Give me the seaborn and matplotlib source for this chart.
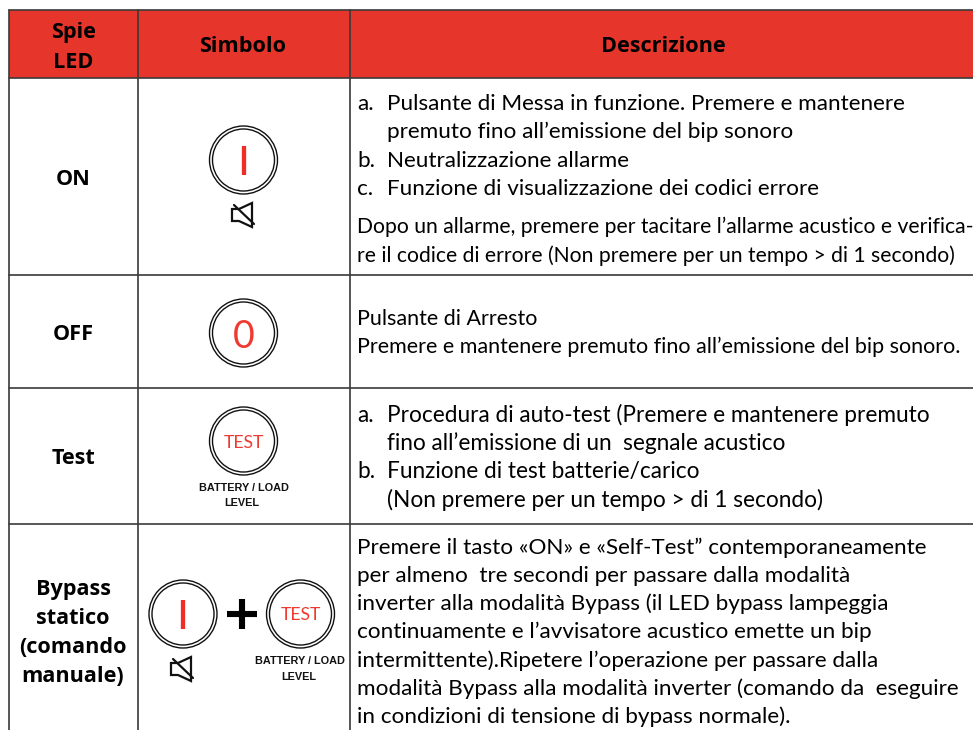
import matplotlib
matplotlib.use("Agg")
import matplotlib.pyplot as plt
from matplotlib.patches import Circle, Polygon, Rectangle
import seaborn as sns

# table content
header_labels = ["Spie", "LED", "Simbolo", "Descrizione"]
row_labels = ["ON", "OFF", "Test"]
bypass_label = ["Bypass", "statico", "(comando", "manuale)"]
on_lines = ["Pulsante di Messa in funzione. Premere e mantenere",
            "premuto fino all\u2019emissione del bip sonoro",
            "Neutralizzazione allarme",
            "Funzione di visualizzazione dei codici errore"]
on_note = ["Dopo un allarme, premere per tacitare l\u2019allarme acustico e verifica-",
           "re il codice di errore (Non premere per un tempo > di 1 secondo)"]
off_lines = ["Pulsante di Arresto",
             "Premere e mantenere premuto fino all\u2019emissione del bip sonoro."]
test_lines = ["Procedura di auto-test (Premere e mantenere premuto",
              "fino all\u2019emissione di un  segnale acustico",
              "Funzione di test batterie/carico",
              "(Non premere per un tempo > di 1 secondo)"]
bypass_lines = ["Premere il tasto \u00abON\u00bb e \u00abSelf-Test\u201d contemporaneamente",
                "per almeno  tre secondi per passare dalla modalit\u00e0",
                "inverter alla modalit\u00e0 Bypass (il LED bypass lampeggia",
                "continuamente e l\u2019avvisatore acustico emette un bip",
                "intermittente).Ripetere l\u2019operazione per passare dalla",
                "modalit\u00e0 Bypass alla modalit\u00e0 inverter (comando da  eseguire",
                "in condizioni di tensione di bypass normale)."]

RED = "#e6352b"
LINE = "#3a3a3a"
INK = "#111111"

sns.set_theme(style="white")
plt.rcParams["font.family"] = ["Lato", "DejaVu Sans"]

fig = plt.figure(figsize=(9.73, 7.3), dpi=100)
ax = fig.add_axes([0, 0, 1, 1])
ax.set_xlim(0, 973)
ax.set_ylim(730, 0)
ax.axis("off")
sns.despine(ax=ax, left=True, bottom=True)

ax.add_patch(Rectangle((9, 10), 970, 68, fc=RED, ec="none"))
for y in [10, 78, 274.5, 388, 524]:
    ax.plot([9, 973], [y, y], color=LINE, lw=1.2)
for x in [9, 137.5, 349.5]:
    ax.plot([x, x], [10, 730], color=LINE, lw=1.2)

def body(x, y, s, size):
    ax.text(x, y, s, fontsize=size, color="black", ha="left", va="baseline")

def bold(x, y, s):
    ax.text(x, y, s, fontsize=15.6, family="Open Sans", weight="bold", color="black",
            ha="center", va="baseline")

def button(cx, cy, label):
    ax.add_patch(Circle((cx, cy), 34, fc="white", ec=INK, lw=1))
    ax.add_patch(Circle((cx, cy), 31, fc="white", ec=INK, lw=1))
    if label == "I":
        ax.plot([cx, cx], [cy - 14.5, cy + 14.5], color="#ee2f28", lw=3.1, solid_capstyle="butt")
    elif label == "0":
        ax.text(cx, cy, label, color="#ee3a30", fontsize=27, ha="center", va="center_baseline")
    else:
        ax.text(cx, cy, label, color="#ee3a30", fontsize=12.6, ha="center", va="center_baseline")

def mute(cx, cy):
    xs = [-11, -4, 9, 9, -4, -11]
    ys = [-6, -6, -12, 12, 6, 6]
    ax.add_patch(Polygon([(cx + a, cy + b) for a, b in zip(xs, ys)], closed=True,
                         fc="white", ec=INK, lw=1.6))
    ax.plot([cx - 9, cx + 11], [cy - 10, cy + 9], color=INK, lw=1.6)

def battery(cx, cy):
    ax.text(cx, cy, "BATTERY / LOAD", family="Liberation Sans", weight="bold",
            fontsize=7.8, ha="center", va="center", color=INK)
    ax.text(cx - 1.5, cy + 15.5, "LEVEL", family="Liberation Sans", weight="bold",
            fontsize=7.8, ha="center", va="center", color=INK)

# header
bold(73, 38, header_labels[0])
bold(73, 68, header_labels[1])
bold(243, 52, header_labels[2])
bold(663, 52, header_labels[3])

# first column
for y, s in zip([185, 340, 464], row_labels):
    bold(73, y, s)
for y, s in zip([595, 624, 653, 682], bypass_label):
    bold(73, y, s)

# ON row
for y, m, s in zip([110, 138, 167, 195], ["a.", "", "b.", "c."], on_lines):
    if m:
        body(357, y, m, 16.2)
    body(387, y, s, 16.2)
for y, s in zip([233, 262], on_note):
    body(357, y, s, 15.2)
button(243.5, 160, "I")
mute(243, 215)

# OFF row
for y, s in zip([325, 353], off_lines):
    body(357, y, s, 15.45)
button(243.5, 333, "0")

# Test row
for y, m, s in zip([422, 450, 478, 507], ["a.", "", "b.", ""], test_lines):
    if m:
        body(357, y, m, 16.3)
    body(387, y, s, 16.3)
button(243.5, 441, "TEST")
battery(243.5, 488)

# Bypass row
for y, s in zip([554, 582, 610, 638, 667, 695, 723], bypass_lines):
    body(357, y, s, 16.2)
button(183, 614, "I")
ax.plot([227, 257], [614, 614], color="black", lw=4.4, solid_capstyle="butt")
ax.plot([242, 242], [599, 629], color="black", lw=4.4, solid_capstyle="butt")
button(300.5, 614, "TEST")
mute(182, 669)
battery(300, 661)

fig.savefig("out.png", dpi=100)
